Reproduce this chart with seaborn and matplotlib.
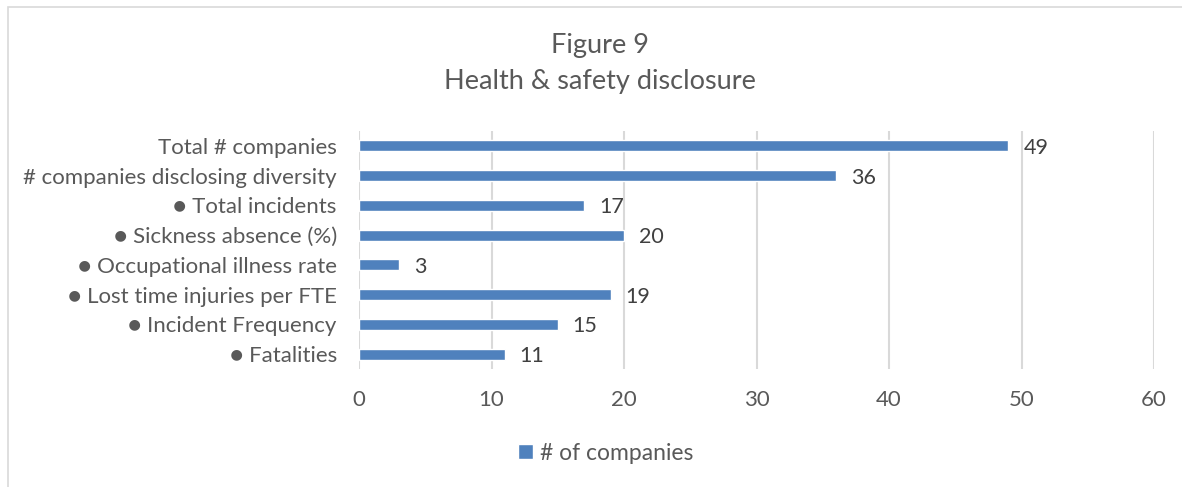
import matplotlib
matplotlib.use("Agg")
import matplotlib.pyplot as plt
import seaborn as sns
import pandas as pd
from matplotlib.patches import Rectangle

categories = [
    "Total # companies",
    "# companies disclosing diversity",
    "● Total incidents",
    "● Sickness absence (%)",
    "● Occupational illness rate",
    "● Lost time injuries per FTE",
    "● Incident Frequency",
    "● Fatalities",
]
companies = [49, 36, 17, 20, 3, 19, 15, 11]
x_ticks = [0, 10, 20, 30, 40, 50, 60]
series_name = "# of companies"
title_lines = ["Figure 9", "Health & safety disclosure"]

BAR = "#4F81BD"
TEXT = "#595959"
GRID = "#D9D9D9"

sns.set_theme(style="white")
plt.rcParams["font.family"] = ["Lato", "DejaVu Sans"]

df = pd.DataFrame({"category": categories, "value": companies})

W, H, DPI = 1182, 487, 100
fig = plt.figure(figsize=(W / DPI, H / DPI), dpi=DPI)
ax = fig.add_axes([359 / W, 1 - 369 / H, (1154 - 359) / W, (369 - 131) / H])

sns.barplot(data=df, x="value", y="category", orient="h", color=BAR,
            width=0.37, ax=ax, label=series_name, saturation=1)

ax.set_xlim(0, 60)
ax.set_ylim(len(categories) - 0.5, -0.5)
ax.set_xticks(x_ticks)
ax.set_xlabel("")
ax.set_ylabel("")
for s in ax.spines.values():
    s.set_visible(False)
ax.grid(axis="x", color=GRID, linewidth=1.5)
ax.grid(axis="y", visible=False)
ax.set_axisbelow(True)
ax.tick_params(axis="both", length=0, colors=TEXT, labelsize=16)
ax.tick_params(axis="x", pad=15)
ax.tick_params(axis="y", pad=16)

# value labels just right of each bar end
for bar, v in zip(ax.patches, companies):
    ax.annotate(f"{v}", (bar.get_width(), bar.get_y() + bar.get_height() / 2),
                xytext=(15, -2), textcoords="offset pixels",
                ha="left", va="center", fontsize=15.5, color="#404040")

fig.text(600 / W, 1 - 46 / H, title_lines[0], ha="center", va="center",
         fontsize=19.5, color=TEXT)
fig.text(600 / W, 1 - 81 / H, title_lines[1], ha="center", va="center",
         fontsize=19.5, color=TEXT)

handles, labels = ax.get_legend_handles_labels()
leg = ax.legend(handles, labels, loc="center", bbox_to_anchor=(606 / W, 1 - 453 / H),
                bbox_transform=fig.transFigure, frameon=False, fontsize=16.5,
                handlelength=0.65, handleheight=0.65, handletextpad=0.3)
for t in leg.get_texts():
    t.set_color(TEXT)

# light chart-area frame
fig.patches.append(Rectangle((8 / W, -0.1), 1.2, 1 - 7 / H + 0.1,
                             transform=fig.transFigure, fill=False,
                             edgecolor=GRID, linewidth=1.2, zorder=0))

fig.savefig("out.png", dpi=DPI, facecolor="white")
